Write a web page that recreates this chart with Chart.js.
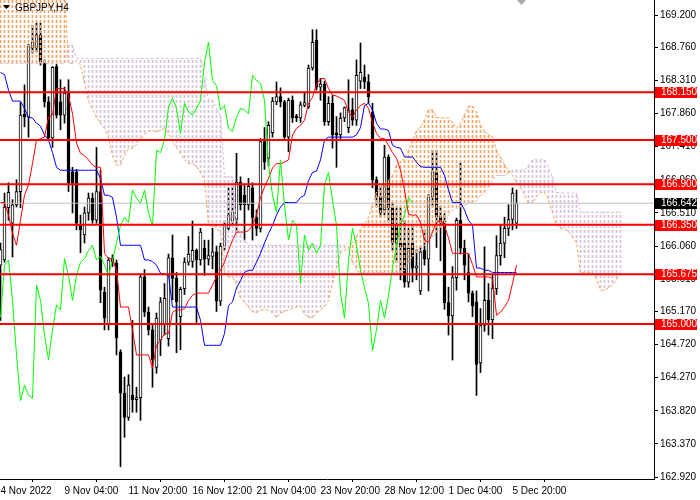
<!DOCTYPE html>
<html>
<head>
<meta charset="utf-8">
<script src="https://cdn.jsdelivr.net/npm/chart.js@4.4.0/dist/chart.umd.min.js"></script>
<style>
  html, body { margin: 0; padding: 0; background: #fff; }
</style>
</head>
<body>
<canvas id="grafico" width="700" height="500"></canvas>
<script>
// GBPJPY H4 - velas, Ichimoku y niveles
var simbolo = "GBPJPY,H4";

var opens = [
165.80,165.87,166.58,166.37,166.62,166.80,167.85,167.81,168.75,168.76,
168.93,168.55,168.02,167.53,168.50,168.02,167.84,168.15,167.07,167.07,
166.35,166.21,166.51,166.71,166.41,166.80,165.43,165.00,165.90,165.83,
164.62,164.06,163.73,164.03,163.97,164.00,165.64,165.16,164.92,164.41,
164.78,165.00,164.80,165.90,165.62,165.10,165.48,165.84,165.85,166.00,
165.87,166.03,165.88,165.92,165.98,165.31,166.06,166.30,166.40,166.42,
166.93,166.75,166.62,166.85,166.45,166.30,167.48,167.25,167.60,168.02,
168.09,168.02,167.54,168.04,167.83,167.80,167.97,167.95,168.48,168.86,
168.22,168.26,167.75,168.00,167.60,167.57,167.80,167.67,167.91,167.77,
168.30,168.36,168.29,167.88,166.96,166.73,166.55,167.27,166.58,166.35,
166.10,166.10,165.57,166.10,165.76,165.45,166.00,165.88,166.73,167.07,
166.46,166.40,165.29,165.11,165.63,166.41,166.03,165.70,165.42,165.30,
164.47,164.98,165.32,165.06,165.48,165.93,166.10,166.30,166.42,166.37];

var highs = [
166.10,166.78,166.92,166.69,166.96,168.01,168.25,168.80,169.06,169.09,
169.09,168.59,168.09,168.50,168.53,168.32,168.22,168.32,167.13,167.10,
166.48,166.59,166.78,166.78,167.40,167.09,165.50,165.90,165.94,165.87,
164.65,164.28,164.31,165.05,164.14,165.67,165.74,165.23,164.98,165.15,
165.36,165.55,165.95,166.21,165.70,165.50,165.90,166.19,166.40,166.02,
166.30,166.14,166.14,166.30,166.06,166.10,166.40,166.85,166.87,167.32,
167.00,166.90,166.98,166.92,166.55,167.52,167.67,167.75,168.08,168.29,
168.21,168.04,168.07,168.10,167.85,168.02,168.14,168.52,169.00,169.00,
168.34,168.30,168.09,168.11,167.82,167.87,167.95,168.32,168.07,168.59,
168.82,168.52,168.39,168.00,167.00,166.87,167.43,167.30,166.65,166.58,
166.58,166.41,166.30,166.35,166.01,166.05,166.28,166.76,167.36,167.36,
166.60,166.50,165.50,165.78,166.44,167.19,166.14,165.95,165.45,165.45,
165.21,166.05,165.55,165.66,166.20,166.35,166.45,166.62,166.85,166.82];

var lows = [
165.05,165.84,166.41,165.91,166.59,166.58,167.68,167.54,168.68,168.70,
168.52,167.95,167.50,167.40,167.80,167.64,167.73,166.80,166.51,166.28,
165.97,166.10,166.41,166.37,166.37,165.29,164.92,164.92,165.78,164.58,
163.06,163.46,163.69,163.80,163.80,163.69,165.10,164.85,164.14,164.33,
164.57,164.85,164.70,165.33,164.61,164.65,165.40,165.80,165.77,165.02,
165.80,165.66,165.80,165.75,165.17,165.25,166.00,166.28,166.33,166.24,
166.55,166.14,166.55,166.14,166.20,166.25,167.10,167.15,167.54,167.98,
167.95,167.52,167.34,167.74,167.75,167.74,167.95,167.93,168.45,168.18,
168.04,167.70,167.70,167.39,167.13,167.52,167.75,167.60,167.70,167.70,
168.20,168.20,168.00,166.85,166.60,166.45,166.48,166.40,166.00,165.84,
165.60,165.50,165.50,165.57,165.60,165.40,165.80,165.45,166.60,166.04,
165.86,165.20,164.85,164.51,165.46,165.95,165.60,165.30,165.10,164.03,
164.34,164.90,164.85,164.80,165.40,165.80,165.90,166.20,166.28,166.30];

var closes = [
166.01,166.59,166.79,166.62,166.80,167.84,167.81,168.77,168.83,168.93,
168.56,168.02,167.53,168.49,167.84,167.84,168.14,166.92,166.92,166.37,
166.28,166.51,166.71,166.41,166.80,165.46,165.08,165.87,165.84,164.81,
164.06,163.73,164.17,163.97,164.00,165.64,165.16,164.92,164.51,165.08,
165.30,165.35,165.90,165.62,165.30,165.47,165.84,165.95,166.00,165.87,
166.25,165.88,165.93,165.98,165.31,166.06,166.35,166.48,166.52,166.93,
166.62,166.62,166.87,166.45,166.30,167.48,167.20,167.70,168.03,168.09,
168.02,167.54,168.04,167.80,167.80,167.98,168.01,168.48,168.83,168.22,
168.26,167.75,168.00,167.57,167.57,167.80,167.94,167.91,167.77,168.38,
168.42,168.29,168.09,166.96,166.73,166.51,167.27,166.58,166.11,166.10,
166.05,165.57,166.03,165.76,165.79,165.98,165.88,166.73,167.07,166.46,
166.38,165.29,165.11,165.63,166.41,166.03,165.80,165.42,165.25,164.45,
164.98,165.32,165.06,165.48,165.93,166.10,166.30,166.42,166.78,166.642];

// Tenkan-sen (rojo)
var tenkan = [
166.65,166.65,166.48,166.23,166.07,166.41,166.75,166.89,167.18,167.50,
167.52,167.54,167.81,167.84,168.20,168.20,168.20,168.10,167.86,167.46,
167.32,167.29,167.23,167.16,167.13,167.13,165.96,165.89,165.89,165.73,
165.23,165.23,165.23,164.92,164.58,164.58,164.58,164.58,164.40,164.71,
164.78,164.87,164.87,165.16,165.19,165.19,165.21,165.32,165.39,165.42,
165.42,165.42,165.42,165.53,165.64,165.73,165.84,166.00,166.14,166.25,
166.25,166.25,166.27,166.34,166.48,166.72,166.86,166.98,167.12,167.18,
167.18,167.20,167.23,167.57,167.66,167.70,167.77,168.00,168.08,168.26,
168.33,168.34,168.20,168.11,168.10,168.07,168.04,167.88,167.81,167.91,
167.97,168.00,167.93,167.74,167.59,167.52,167.52,167.43,167.33,167.25,
167.09,166.82,166.49,166.48,166.48,166.38,166.14,166.11,166.25,166.38,
166.41,166.33,166.17,165.96,165.96,165.96,165.96,165.96,165.81,165.64,
165.64,165.64,165.64,165.62,165.12,165.16,165.23,165.32,165.55,165.80];

// Kijun-sen (azul)
var kijun = [
168.42,168.39,168.18,168.03,168.03,168.03,167.93,167.81,167.80,167.73,
167.69,167.57,167.50,167.33,167.13,167.09,167.09,167.09,167.09,167.09,
167.09,167.09,167.09,167.09,167.09,166.98,166.75,166.75,166.72,166.45,
166.07,166.07,166.07,166.07,166.07,166.07,165.87,165.87,165.85,165.80,
165.69,165.68,165.66,165.23,165.23,165.23,165.23,165.23,165.23,165.23,
165.05,164.71,164.71,164.71,164.71,164.71,164.87,165.25,165.30,165.49,
165.59,165.70,165.73,165.73,165.84,165.96,166.10,166.23,166.34,166.48,
166.59,166.65,166.65,166.65,166.65,166.72,166.75,166.95,167.06,167.08,
167.23,167.50,167.54,167.54,167.54,167.54,167.54,167.54,167.54,167.57,
167.67,167.97,168.00,167.91,167.73,167.65,167.65,167.63,167.43,167.40,
167.39,167.27,167.27,167.27,167.20,167.14,167.13,167.13,167.13,167.13,
167.13,167.02,166.82,166.65,166.65,166.65,166.55,166.41,166.34,165.76,
165.76,165.73,165.73,165.70,165.70,165.70,165.70,165.70,165.70,165.70];

// Chikou span (verde), ya desplazada 26 velas atras
var chikou = [
165.09,165.80,165.87,165.32,164.58,163.96,164.17,164.03,163.99,165.53,
165.32,164.85,164.51,164.92,165.26,165.19,165.89,165.66,165.32,165.66,
165.84,165.89,166.00,166.07,165.87,165.92,165.80,165.66,165.87,166.10,
166.34,166.45,166.38,166.82,166.71,166.64,166.82,166.51,166.34,167.36,
167.33,167.50,167.95,168.07,167.93,167.59,168.00,167.88,167.84,167.93,
168.04,168.56,168.83,168.31,168.24,167.91,167.97,167.66,167.62,167.81,
167.93,167.91,167.86,168.38,168.31,168.27,168.04,167.16,166.75,166.52,
167.23,166.61,166.14,166.41,166.34,165.55,166.21,166.00,166.10,165.96,
166.07,166.89,167.06,166.68,166.34,165.42,165.08,165.87,166.30,166.07,
165.73,165.49,165.28,164.64,164.92,165.32,165.08,165.39,165.76,166.07,
166.34,166.48,166.72,166.64];

// Senkou span A y B, ya desplazadas 26 velas adelante
var spanA = [
169.55,169.55,169.55,169.55,169.55,169.55,169.55,169.55,169.55,169.55,
169.55,169.55,169.55,169.55,169.55,169.55,169.55,168.54,168.54,168.58,
168.52,168.27,168.04,167.91,167.81,167.73,167.66,167.54,167.29,167.16,
167.16,167.29,167.38,167.39,167.44,167.51,167.58,167.62,167.63,167.61,
167.63,167.66,167.59,167.48,167.40,167.32,167.23,167.18,167.18,167.14,
167.06,166.95,166.37,166.32,166.32,166.23,165.70,165.64,165.64,165.53,
165.35,165.30,165.23,165.17,165.15,165.19,165.19,165.19,165.15,165.09,
165.15,165.17,165.19,165.21,165.23,165.24,165.13,165.09,165.09,165.15,
165.19,165.24,165.32,165.55,165.77,165.96,166.00,166.04,166.11,166.19,
166.29,166.36,166.45,166.62,166.79,166.87,166.91,166.95,167.02,167.16,
167.21,167.25,167.36,167.50,167.62,167.68,167.77,167.91,167.91,167.81,
167.80,167.80,167.80,167.74,167.66,167.73,167.84,167.96,167.96,167.88,
167.70,167.62,167.58,167.54,167.36,167.27,167.16,167.09,167.02,166.93,
166.85,166.75,166.64,166.64,166.74,166.79,166.79,166.68,166.52,166.34,
166.30,166.29,166.26,166.18,166.11,165.70,165.70,165.70,165.70,165.60,
165.46,165.46,165.49,165.53,165.60,165.73];

var spanB = [
168.54,168.54,168.54,168.54,168.54,168.54,168.54,168.54,168.54,168.54,
168.54,168.54,168.54,168.54,168.54,168.54,168.54,168.79,168.79,168.61,
168.61,168.61,168.61,168.61,168.61,168.61,168.61,168.61,168.61,168.61,
168.61,168.61,168.61,168.61,168.61,168.61,168.61,168.61,168.61,168.61,
168.61,168.61,168.61,168.61,168.61,168.61,168.61,168.61,168.61,168.61,
168.61,168.35,168.04,168.04,167.93,167.84,167.00,167.00,167.00,166.34,
166.23,166.14,166.07,166.07,166.07,166.07,166.07,166.07,166.07,166.07,
166.07,166.07,166.07,166.07,166.07,166.07,166.07,166.07,166.07,166.07,
166.07,166.07,166.07,166.07,166.07,166.07,166.07,166.00,165.84,165.73,
165.70,165.70,165.70,165.70,165.70,165.70,165.70,165.70,165.70,165.70,
165.70,165.73,165.84,165.92,165.96,166.00,166.07,166.14,166.19,166.25,
166.30,166.34,166.48,166.55,166.57,166.59,166.61,166.64,166.65,166.68,
166.75,166.79,166.86,166.96,167.02,167.02,167.02,167.05,167.09,167.09,
167.09,167.09,167.16,167.23,167.24,167.24,167.24,167.12,167.00,166.79,
166.78,166.78,166.78,166.78,166.78,166.52,166.52,166.52,166.52,166.52,
166.52,166.52,166.52,166.52,166.52,166.52];

// Niveles horizontales y precio actual
var niveles = [168.150, 167.500, 166.900, 166.350, 165.675, 165.000];
var precioActual = 166.642;

// Etiquetas de los ejes
var xTickBars = [0, 16, 32, 48, 64, 80, 96, 112, 128];
var xLabels = ["4 Nov 2022", "9 Nov 04:00", "11 Nov 20:00", "16 Nov 12:00", "21 Nov 04:00",
               "23 Nov 20:00", "28 Nov 12:00", "1 Dec 04:00", "5 Dec 20:00"];
var yTicks = [169.200, 168.760, 168.310, 167.860, 167.410, 166.960, 166.510, 166.060,
              165.610, 165.170, 164.720, 164.270, 163.820, 163.370, 162.920];
var yTickLabels = ["169.200", "168.760", "168.310", "167.860", "167.410", "166.960", "166.510", "166.060",
                   "165.610", "165.170", "164.720", "164.270", "163.820", "163.370", "162.920"];

var colorNube1 = "#F4A460";  // SandyBrown
var colorNube2 = "#D8BFD8";  // Thistle

Chart.defaults.font.family = '"Liberation Sans", Arial, sans-serif';
Chart.defaults.font.size = 10;
Chart.defaults.color = "#000";

// patron de rayitas verticales para la nube
function patronPunteado(color) {
    var c = document.createElement("canvas");
    c.width = 1; c.height = 5;
    var g = c.getContext("2d");
    g.fillStyle = color;
    g.fillRect(0, 0, 1, 3);
    return g.createPattern(c, "repeat");
}

var mechas = highs.map((h, i) => ({ x: i, y: [lows[i], h] }));
var cuerpos = closes.map((c, i) => ({ x: i, y: [opens[i], c] }));
var coloresCuerpo = closes.map((c, i) => (c >= opens[i] ? "#FFFFFF" : "#000000"));

var nubeArriba = [], nubeAbajo = [];
spanA.forEach((a, i) => {
    var b = spanB[i];
    if (a >= b) nubeArriba.push({ x: i, y: [b, a] });
    else nubeAbajo.push({ x: i, y: [a, b] });
});

function serie(arr) { return arr.map((v, i) => ({ x: i, y: v })); }

var xMin = -0.125, xMax = 163.375;
function horizontal(v) { return [{ x: xMin, y: v }, { x: xMax, y: v }]; }

var lineaBase = { type: "line", pointRadius: 0, borderWidth: 1, tension: 0, fill: false };

var datasets = [
    { type: "bar", data: mechas, backgroundColor: "#000", barThickness: 1, grouped: false, order: 9 },
    { type: "bar", data: cuerpos, backgroundColor: coloresCuerpo, borderColor: "#000", borderWidth: 1,
      borderSkipped: false, barThickness: 3, grouped: false, order: 8 },
    { type: "bar", data: nubeArriba, backgroundColor: patronPunteado(colorNube1), barThickness: 1, grouped: false, order: 7 },
    { type: "bar", data: nubeAbajo, backgroundColor: patronPunteado(colorNube2), barThickness: 1, grouped: false, order: 7 },
    Object.assign({}, lineaBase, { data: serie(spanA), borderColor: colorNube1, borderDash: [3, 2], order: 6 }),
    Object.assign({}, lineaBase, { data: serie(spanB), borderColor: colorNube2, borderDash: [3, 2], order: 6 }),
    Object.assign({}, lineaBase, { data: horizontal(precioActual), borderColor: "#C0C0C0", order: 5 }),
    Object.assign({}, lineaBase, { data: serie(kijun), borderColor: "#0000FF", order: 4 }),
    Object.assign({}, lineaBase, { data: serie(tenkan), borderColor: "#FF0000", order: 3 }),
    Object.assign({}, lineaBase, { data: serie(chikou), borderColor: "#00FF00", order: 2 })
];
niveles.forEach(v => {
    datasets.push(Object.assign({}, lineaBase, { data: horizontal(v), borderColor: "#FF0000", borderWidth: 2, order: 1 }));
});

// etiquetas de precio, titulo y marca de desplazamiento
var extras = {
    id: "extras",
    afterDraw(chart) {
        var ctx = chart.ctx, area = chart.chartArea, y = chart.scales.y, x = chart.scales.x;
        ctx.save();
        ctx.font = '10px "Liberation Sans", Arial, sans-serif';
        ctx.textBaseline = "middle";
        ctx.textAlign = "left";

        function etiqueta(v, fondo) {
            var py = Math.round(y.getPixelForValue(v));
            ctx.fillStyle = fondo;
            ctx.fillRect(area.right + 1, py - 5, 42, 11);
            ctx.fillStyle = "#FFFFFF";
            ctx.fillText(v.toFixed(3), area.right + 7, py + 0.5);
        }
        niveles.forEach(v => etiqueta(v, "#FF0000"));
        etiqueta(precioActual, "#000000");

        // titulo
        ctx.fillStyle = "#000";
        ctx.beginPath();
        ctx.moveTo(3, 5); ctx.lineTo(10, 5); ctx.lineTo(6.5, 9); ctx.closePath();
        ctx.fill();
        ctx.fillText(simbolo, 15, 8);

        // marca gris de desplazamiento
        var mx = Math.round(x.getPixelForValue(closes.length));
        ctx.fillStyle = "#A8A8A8";
        ctx.beginPath();
        ctx.moveTo(mx - 4, area.top); ctx.lineTo(mx + 5, area.top); ctx.lineTo(mx + 0.5, area.top + 5); ctx.closePath();
        ctx.fill();
        ctx.restore();
    }
};

var ctx = document.getElementById("grafico").getContext("2d");
window.grafico = new Chart(ctx, {
    type: "bar",
    data: { datasets: datasets },
    options: {
        responsive: false,
        animation: false,
        events: [],
        layout: { padding: 0 },
        plugins: { legend: { display: false }, tooltip: { enabled: false } },
        scales: {
            x: {
                type: "linear",
                min: xMin,
                max: xMax,
                offset: false,
                afterFit: s => { s.height = 21; s.paddingLeft = 0; s.paddingRight = 0; },
                afterBuildTicks: s => { s.ticks = xTickBars.map(v => ({ value: v })); },
                grid: { drawOnChartArea: false, drawTicks: true, tickLength: 3, color: "#000" },
                border: { display: true, color: "#000", width: 1 },
                ticks: {
                    autoSkip: false, maxRotation: 0, align: "start", padding: 3, color: "#000",
                    callback: (v, i) => xLabels[i]
                }
            },
            y: {
                type: "linear",
                position: "right",
                min: 162.893,
                max: 169.404,
                afterFit: s => { s.width = 46; s.paddingTop = 0; s.paddingBottom = 0; },
                afterBuildTicks: s => { s.ticks = yTicks.map(v => ({ value: v })); },
                grid: { drawOnChartArea: false, drawTicks: true, tickLength: 4, color: "#000" },
                border: { display: true, color: "#000", width: 1 },
                ticks: { padding: 2, color: "#000", callback: (v, i) => yTickLabels[i] }
            }
        }
    },
    plugins: [extras]
});
</script>
</body>
</html>
